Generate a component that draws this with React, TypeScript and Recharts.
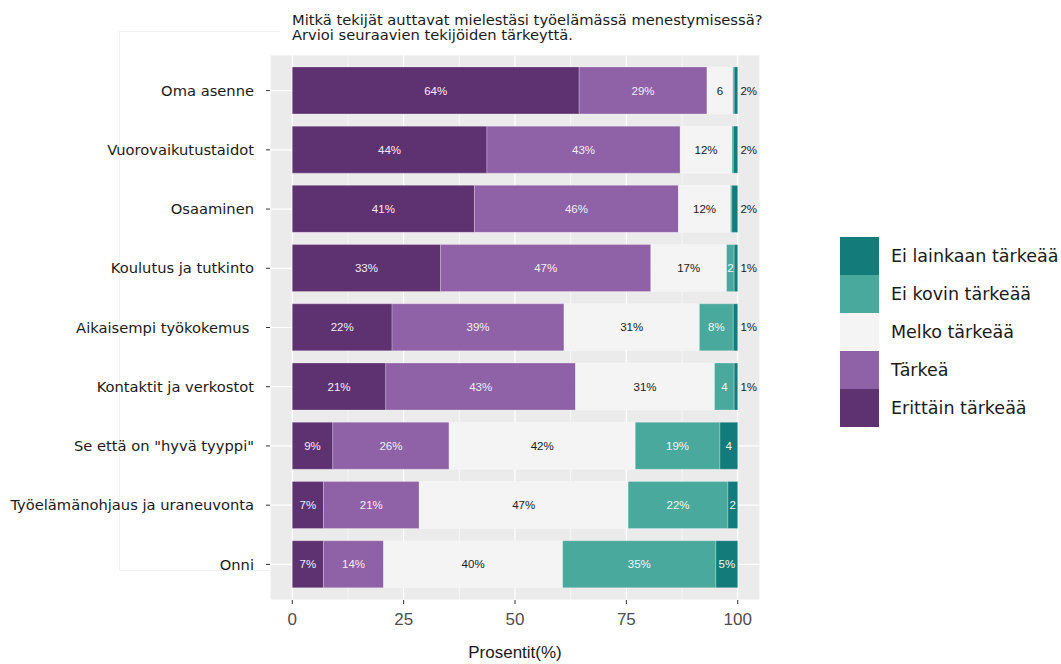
import React from "react";
import {
  ComposedChart,
  Bar,
  XAxis,
  YAxis,
  CartesianGrid,
  LabelList,
  Legend,
} from "recharts";

const categories = [
  "Oma asenne",
  "Vuorovaikutustaidot",
  "Osaaminen",
  "Koulutus ja tutkinto",
  "Aikaisempi työkokemus\u00a0",
  "Kontaktit ja verkostot",
  'Se että on "hyvä tyyppi"',
  "Työelämänohjaus ja uraneuvonta",
  "Onni",
];

const erittain = [64.4, 43.7, 40.9, 33.3, 22.4, 21.0, 9.1, 7.0, 7.0];
const tarkea = [28.7, 43.4, 45.8, 47.2, 38.6, 42.6, 26.1, 21.5, 13.5];
const melko = [5.8, 11.6, 11.7, 17.0, 30.4, 31.2, 41.8, 46.9, 40.2];
const eiKovin = [0.3, 0.3, 0.3, 1.7, 7.6, 4.4, 19.0, 22.4, 34.4];
const eiLainkaan = [0.8, 1.0, 1.3, 0.8, 1.0, 0.8, 4.0, 2.2, 4.9];

const erittainLabels = ["64%", "44%", "41%", "33%", "22%", "21%", "9%", "7%", "7%"];
const tarkeaLabels = ["29%", "43%", "46%", "47%", "39%", "43%", "26%", "21%", "14%"];
const melkoLabels = ["6", "12%", "12%", "17%", "31%", "31%", "42%", "47%", "40%"];
const eiKovinLabels = ["", "", "", "2", "8%", "4", "19%", "22%", "35%"];
const eiLainkaanLabels = ["2%", "2%", "2%", "1%", "1%", "1%", "4", "2", "5%"];
const eiLainkaanOutside = [true, true, true, true, true, true, false, false, false];

const xTicks = [0, 25, 50, 75, 100];
const xMinorTicks = [12.5, 37.5, 62.5, 87.5];
const xDomain = [-5, 105];

const series = [
  { key: "erittain", name: "Erittäin tärkeää", color: "#5E3170", labelColor: "#f2eef5", labels: erittainLabels },
  { key: "tarkea", name: "Tärkeä", color: "#8F61A6", labelColor: "#f2eef5", labels: tarkeaLabels },
  { key: "melko", name: "Melko tärkeää", color: "#F4F4F4", labelColor: "#1a1a1a", labels: melkoLabels },
  { key: "eiKovin", name: "Ei kovin tärkeää", color: "#48A99C", labelColor: "#f0f7f6", labels: eiKovinLabels },
  { key: "eiLainkaan", name: "Ei lainkaan tärkeää", color: "#137C7B", labelColor: "#f0f7f6", labels: eiLainkaanLabels },
];

const data = categories.map((c, i) => ({
  category: c,
  erittain: erittain[i],
  tarkea: tarkea[i],
  melko: melko[i],
  eiKovin: eiKovin[i],
  eiLainkaan: eiLainkaan[i],
}));

const makeLabel =
  (labels: string[], color: string, outside?: boolean[]) => (props: any) => {
    const { x, y, width, height, index } = props;
    const t = labels[index];
    if (!t) return null;
    const out = outside ? outside[index] : false;
    const cx = out ? Number(x) + Number(width) + 11 : Number(x) + Number(width) / 2;
    return (
      <text
        x={cx}
        y={Number(y) + Number(height) / 2}
        dy="0.36em"
        textAnchor="middle"
        fill={out ? "#1a1a1a" : color}
        fontSize={11.5}
        fontFamily="'Liberation Sans', Arial, sans-serif"
      >
        {t}
      </text>
    );
  };

const renderLegend = () => {
  const items = [...series].reverse();
  return (
    <div style={{ fontFamily: "'DejaVu Sans', Verdana, sans-serif", fontSize: 17.5, color: "#1a1a1a" }}>
      {items.map((s) => (
        <div key={s.key} style={{ display: "flex", alignItems: "center", height: 38 }}>
          <div style={{ width: 39, height: 38, background: s.color, flex: "none" }} />
          <span style={{ marginLeft: 12, whiteSpace: "nowrap" }}>{s.name}</span>
        </div>
      ))}
    </div>
  );
};

const minorGen = (props: any) => {
  const { offset } = props;
  const left = offset.left;
  const w = offset.width;
  return xMinorTicks.map(
    (v) => left + ((v - xDomain[0]) / (xDomain[1] - xDomain[0])) * w
  );
};

export default function App() {
  return (
    <div style={{ position: "absolute", left: 0, top: 0, width: 1061, height: 664, background: "#fff", overflow: "hidden" }}>
      <div
        style={{
          position: "absolute",
          left: 119,
          top: 31,
          width: 160,
          height: 538,
          border: "1px solid #f1f1f1",
          borderRight: "none",
        }}
      />
      <div
        style={{
          position: "absolute",
          left: 292,
          top: 12,
          fontFamily: "'DejaVu Sans', Verdana, sans-serif",
          fontSize: 14.7,
          lineHeight: "15px",
          color: "#1a1a1a",
          whiteSpace: "nowrap",
        }}
      >
        <div>Mitkä tekijät auttavat mielestäsi työelämässä menestymisessä?</div>
        <div>Arvioi seuraavien tekijöiden tärkeyttä.</div>
      </div>
      <div style={{ position: "absolute", left: 0, top: 0 }}>
        <ComposedChart
          width={1061}
          height={664}
          data={data}
          layout="vertical"
          margin={{ top: 55, right: 301, bottom: 0, left: 0 }}
          barCategoryGap="10%"
        >
          <CartesianGrid fill="#EBEBEB" stroke="#ffffff" strokeWidth={1.2} horizontal vertical />
          <CartesianGrid
            fill="none"
            stroke="#ffffff"
            strokeWidth={0.6}
            horizontal={false}
            vertical
            verticalCoordinatesGenerator={minorGen}
          />
          <XAxis
            type="number"
            domain={xDomain}
            ticks={xTicks}
            allowDataOverflow
            axisLine={false}
            tickLine={{ stroke: "#333" }}
            tickSize={4}
            tickMargin={9}
            height={64}
            tick={{ fill: "#4D4D4D", fontSize: 17, fontFamily: "'Liberation Sans', Arial, sans-serif" }}
            label={{
              value: "Prosentit(%)",
              position: "insideBottom",
              offset: 6,
              fill: "#1a1a1a",
              fontSize: 17,
              fontFamily: "'Liberation Sans', Arial, sans-serif",
            }}
          />
          <YAxis
            type="category"
            dataKey="category"
            width={270}
            axisLine={false}
            tickLine={{ stroke: "#333" }}
            tickSize={4}
            tickMargin={12}
            padding={{ top: 6, bottom: 6 }}
            interval={0}
            tick={{ fill: "#1a1a1a", fontSize: 14.7, fontFamily: "'DejaVu Sans', Verdana, sans-serif" }}
          />
          <Legend
            layout="vertical"
            align="center"
            verticalAlign="middle"
            content={renderLegend}
            wrapperStyle={{ left: 840, top: 237, width: 221 }}
          />
          {series.map((s) => (
            <Bar
              key={s.key}
              dataKey={s.key}
              name={s.name}
              stackId="a"
              fill={s.color}
              stroke="#ffffff"
              strokeOpacity={0.25}
              strokeWidth={1}
              isAnimationActive={false}
            >
              <LabelList
                dataKey={s.key}
                content={makeLabel(
                  s.labels,
                  s.labelColor,
                  s.key === "eiLainkaan" ? eiLainkaanOutside : undefined
                )}
              />
            </Bar>
          ))}
        </ComposedChart>
      </div>
    </div>
  );
}
